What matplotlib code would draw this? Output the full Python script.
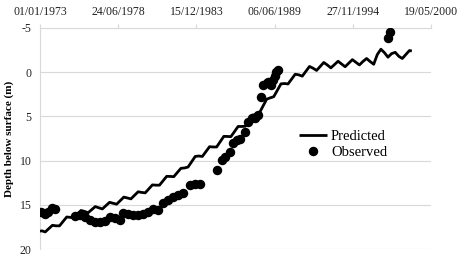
import matplotlib
matplotlib.use("Agg")
import matplotlib.pyplot as plt
import matplotlib.dates as mdates
import pandas as pd

# ---------------- data ----------------
pred_dates = ["1973-01-01",
    "1973-02-15", "1973-05-15", "1973-08-15", "1973-11-15",
    "1974-02-15", "1974-05-15", "1974-08-15", "1974-11-15",
    "1975-02-15", "1975-05-15", "1975-08-15", "1975-11-15",
    "1976-02-15", "1976-05-15", "1976-08-15", "1976-11-15",
    "1977-02-15", "1977-05-15", "1977-08-15", "1977-11-15",
    "1978-02-15", "1978-05-15", "1978-08-15", "1978-11-15",
    "1979-02-15", "1979-05-15", "1979-08-15", "1979-11-15",
    "1980-02-15", "1980-05-15", "1980-08-15", "1980-11-15",
    "1981-02-15", "1981-05-15", "1981-08-15", "1981-11-15",
    "1982-02-15", "1982-05-15", "1982-08-15", "1982-11-15",
    "1983-02-15", "1983-05-15", "1983-08-15", "1983-11-15",
    "1984-02-15", "1984-05-15", "1984-08-15", "1984-11-15",
    "1985-02-15", "1985-05-15", "1985-08-15", "1985-11-15",
    "1986-02-15", "1986-05-15", "1986-08-15", "1986-11-15",
    "1987-02-15", "1987-05-15", "1987-08-15", "1987-11-15",
    "1988-02-15", "1988-05-15", "1988-08-15", "1988-11-15",
    "1989-02-15", "1989-05-15", "1989-08-15", "1989-11-15",
    "1990-02-15", "1990-05-15", "1990-08-15", "1990-11-15",
    "1991-02-15", "1991-05-15", "1991-08-15", "1991-11-15",
    "1992-02-15", "1992-05-15", "1992-08-15", "1992-11-15",
    "1993-02-15", "1993-05-15", "1993-08-15", "1993-11-15",
    "1994-02-15", "1994-05-15", "1994-08-15", "1994-11-15",
    "1995-02-15", "1995-05-15", "1995-08-15", "1995-11-15",
    "1996-02-15", "1996-05-15", "1996-08-15", "1996-11-15",
    "1997-02-15", "1997-05-15", "1997-08-15", "1997-11-15",
    "1998-02-15", "1998-05-15", "1998-08-15", "1998-11-15",
    "1999-01-15"]
pred_depth = [18.00,
    17.94, 18.07, 17.69, 17.32,
    17.38, 17.38, 16.88, 16.38,
    16.42, 16.49, 16.07, 15.64,
    15.75, 15.90, 15.55, 15.20,
    15.34, 15.47, 15.09, 14.72,
    14.83, 14.93, 14.53, 14.13,
    14.23, 14.33, 13.93, 13.53,
    13.60, 13.65, 13.20, 12.75,
    12.78, 12.78, 12.28, 11.78,
    11.79, 11.82, 11.34, 10.87,
    10.83, 10.73, 10.13, 9.53,
    9.48, 9.53, 8.98, 8.43,
    8.46, 8.46, 7.86, 7.26,
    7.27, 7.29, 6.72, 6.14,
    6.14, 6.12, 5.49, 4.87,
    4.77, 4.60, 3.82, 3.05,
    2.90, 2.77, 2.05, 1.32,
    1.28, 1.33, 0.78, 0.23,
    0.30, 0.45, -0.10, -0.65,
    -0.45, -0.20, -0.65, -1.10,
    -0.81, -0.49, -0.86, -1.24,
    -0.92, -0.62, -1.02, -1.42,
    -1.12, -0.82, -1.22, -1.55,
    -1.20, -0.90, -2.00, -2.60,
    -2.20, -1.70, -2.10, -2.25,
    -1.80, -1.55, -2.00, -2.45,
    -2.40]

obs_dates = ["1973-01-20", "1973-05-08", "1973-07-31", "1973-10-27", "1974-01-19",
    "1975-06-13", "1975-10-19", "1976-02-24", "1976-07-01", "1976-11-06",
    "1977-03-15", "1977-07-20", "1977-11-24", "1978-04-01", "1978-08-07",
    "1978-10-30", "1979-03-08", "1979-07-13", "1979-11-17", "1980-03-25",
    "1980-07-31", "1980-12-05", "1981-04-12", "1981-08-18", "1981-12-24",
    "1982-05-01", "1982-09-06", "1983-01-12", "1983-07-01", "1983-11-06",
    "1984-03-14", "1985-05-16", "1985-09-20", "1985-12-13", "1986-04-20",
    "1986-07-16", "1986-10-08", "1987-01-01", "1987-05-08", "1987-07-31",
    "1987-10-27", "1988-01-19", "1988-04-16", "1988-07-01", "1988-08-08",
    "1988-11-14", "1988-12-17", "1989-03-15", "1989-04-20", "1989-06-06",
    "1989-07-24", "1989-09-09", "1997-05-23", "1997-07-06"]
obs_depth = [15.8, 16.0, 15.8, 15.4, 15.5,
    16.3, 16.2, 16.4, 16.7, 16.9,
    17.0, 16.8, 16.4, 16.5, 16.7,
    15.9, 16.0, 16.2, 16.2, 16.0,
    15.8, 15.5, 15.6, 14.8, 14.5,
    14.1, 13.9, 13.7, 12.8, 12.6,
    12.6, 11.1, 9.9, 9.6, 9.0,
    8.05, 7.7, 7.5, 6.8, 5.6,
    5.2, 5.2, 4.8, 2.8, 1.45,
    1.2, 1.07, 1.45, 0.88, 0.4,
    0.0, -0.25, -3.83, -4.6]

xtick_dates = ["1973-01-01", "1978-06-24", "1983-12-15", "1989-06-06", "1994-11-27", "2000-05-19"]
ytick_vals = [-5, 0, 5, 10, 15, 20]

# ---------------- plot ----------------
plt.rcParams['font.family'] = ['Liberation Serif', 'DejaVu Serif']
plt.rcParams['axes.unicode_minus'] = False
fig = plt.figure(figsize=(4.57, 2.62), dpi=100)
ax = fig.add_axes([40/457, 1-249/262, 391/457, 221/262])

pd_pred = pd.to_datetime(pred_dates)
pd_obs = pd.to_datetime(obs_dates)
ax.plot(pd_pred, pred_depth, color='black', lw=2.0, label='Predicted', zorder=3,
        solid_joinstyle='round', solid_capstyle='butt')
ax.plot(pd_obs, obs_depth, linestyle='none', marker='o', ms=5.8, color='black',
        label='Observed', zorder=4)

xt = pd.to_datetime(xtick_dates)
ax.set_xlim(xt[0], xt[-1])
ax.set_xticks(xt)
ax.xaxis.set_major_formatter(mdates.DateFormatter('%d/%m/%Y'))
ax.xaxis.tick_top()
ax.tick_params(axis='x', direction='out', length=3, color='#d9d9d9', labelsize=8.5,
               pad=4, labelcolor='#222222')

ax.set_ylim(20, -5)
ax.set_yticks(ytick_vals)
ax.tick_params(axis='y', length=0, labelsize=8.5, pad=6, labelcolor='#222222')
ax.yaxis.grid(True, color='#d9d9d9', lw=0.8)
ax.set_axisbelow(True)

for s in ['bottom', 'right']:
    ax.spines[s].set_visible(False)
for s in ['top', 'left']:
    ax.spines[s].set_color('#d9d9d9')
    ax.spines[s].set_linewidth(0.8)

ax.set_ylabel('Depth below surface (m)', fontsize=8, fontweight='bold', labelpad=4)

leg = ax.legend(loc='upper left', bbox_to_anchor=(259/391, 1-(130-28)/221), frameon=False,
                fontsize=10.5, handlelength=1.9, handletextpad=0.3, labelspacing=0.15,
                borderaxespad=0, borderpad=0)

fig.savefig('out.png', dpi=100)
